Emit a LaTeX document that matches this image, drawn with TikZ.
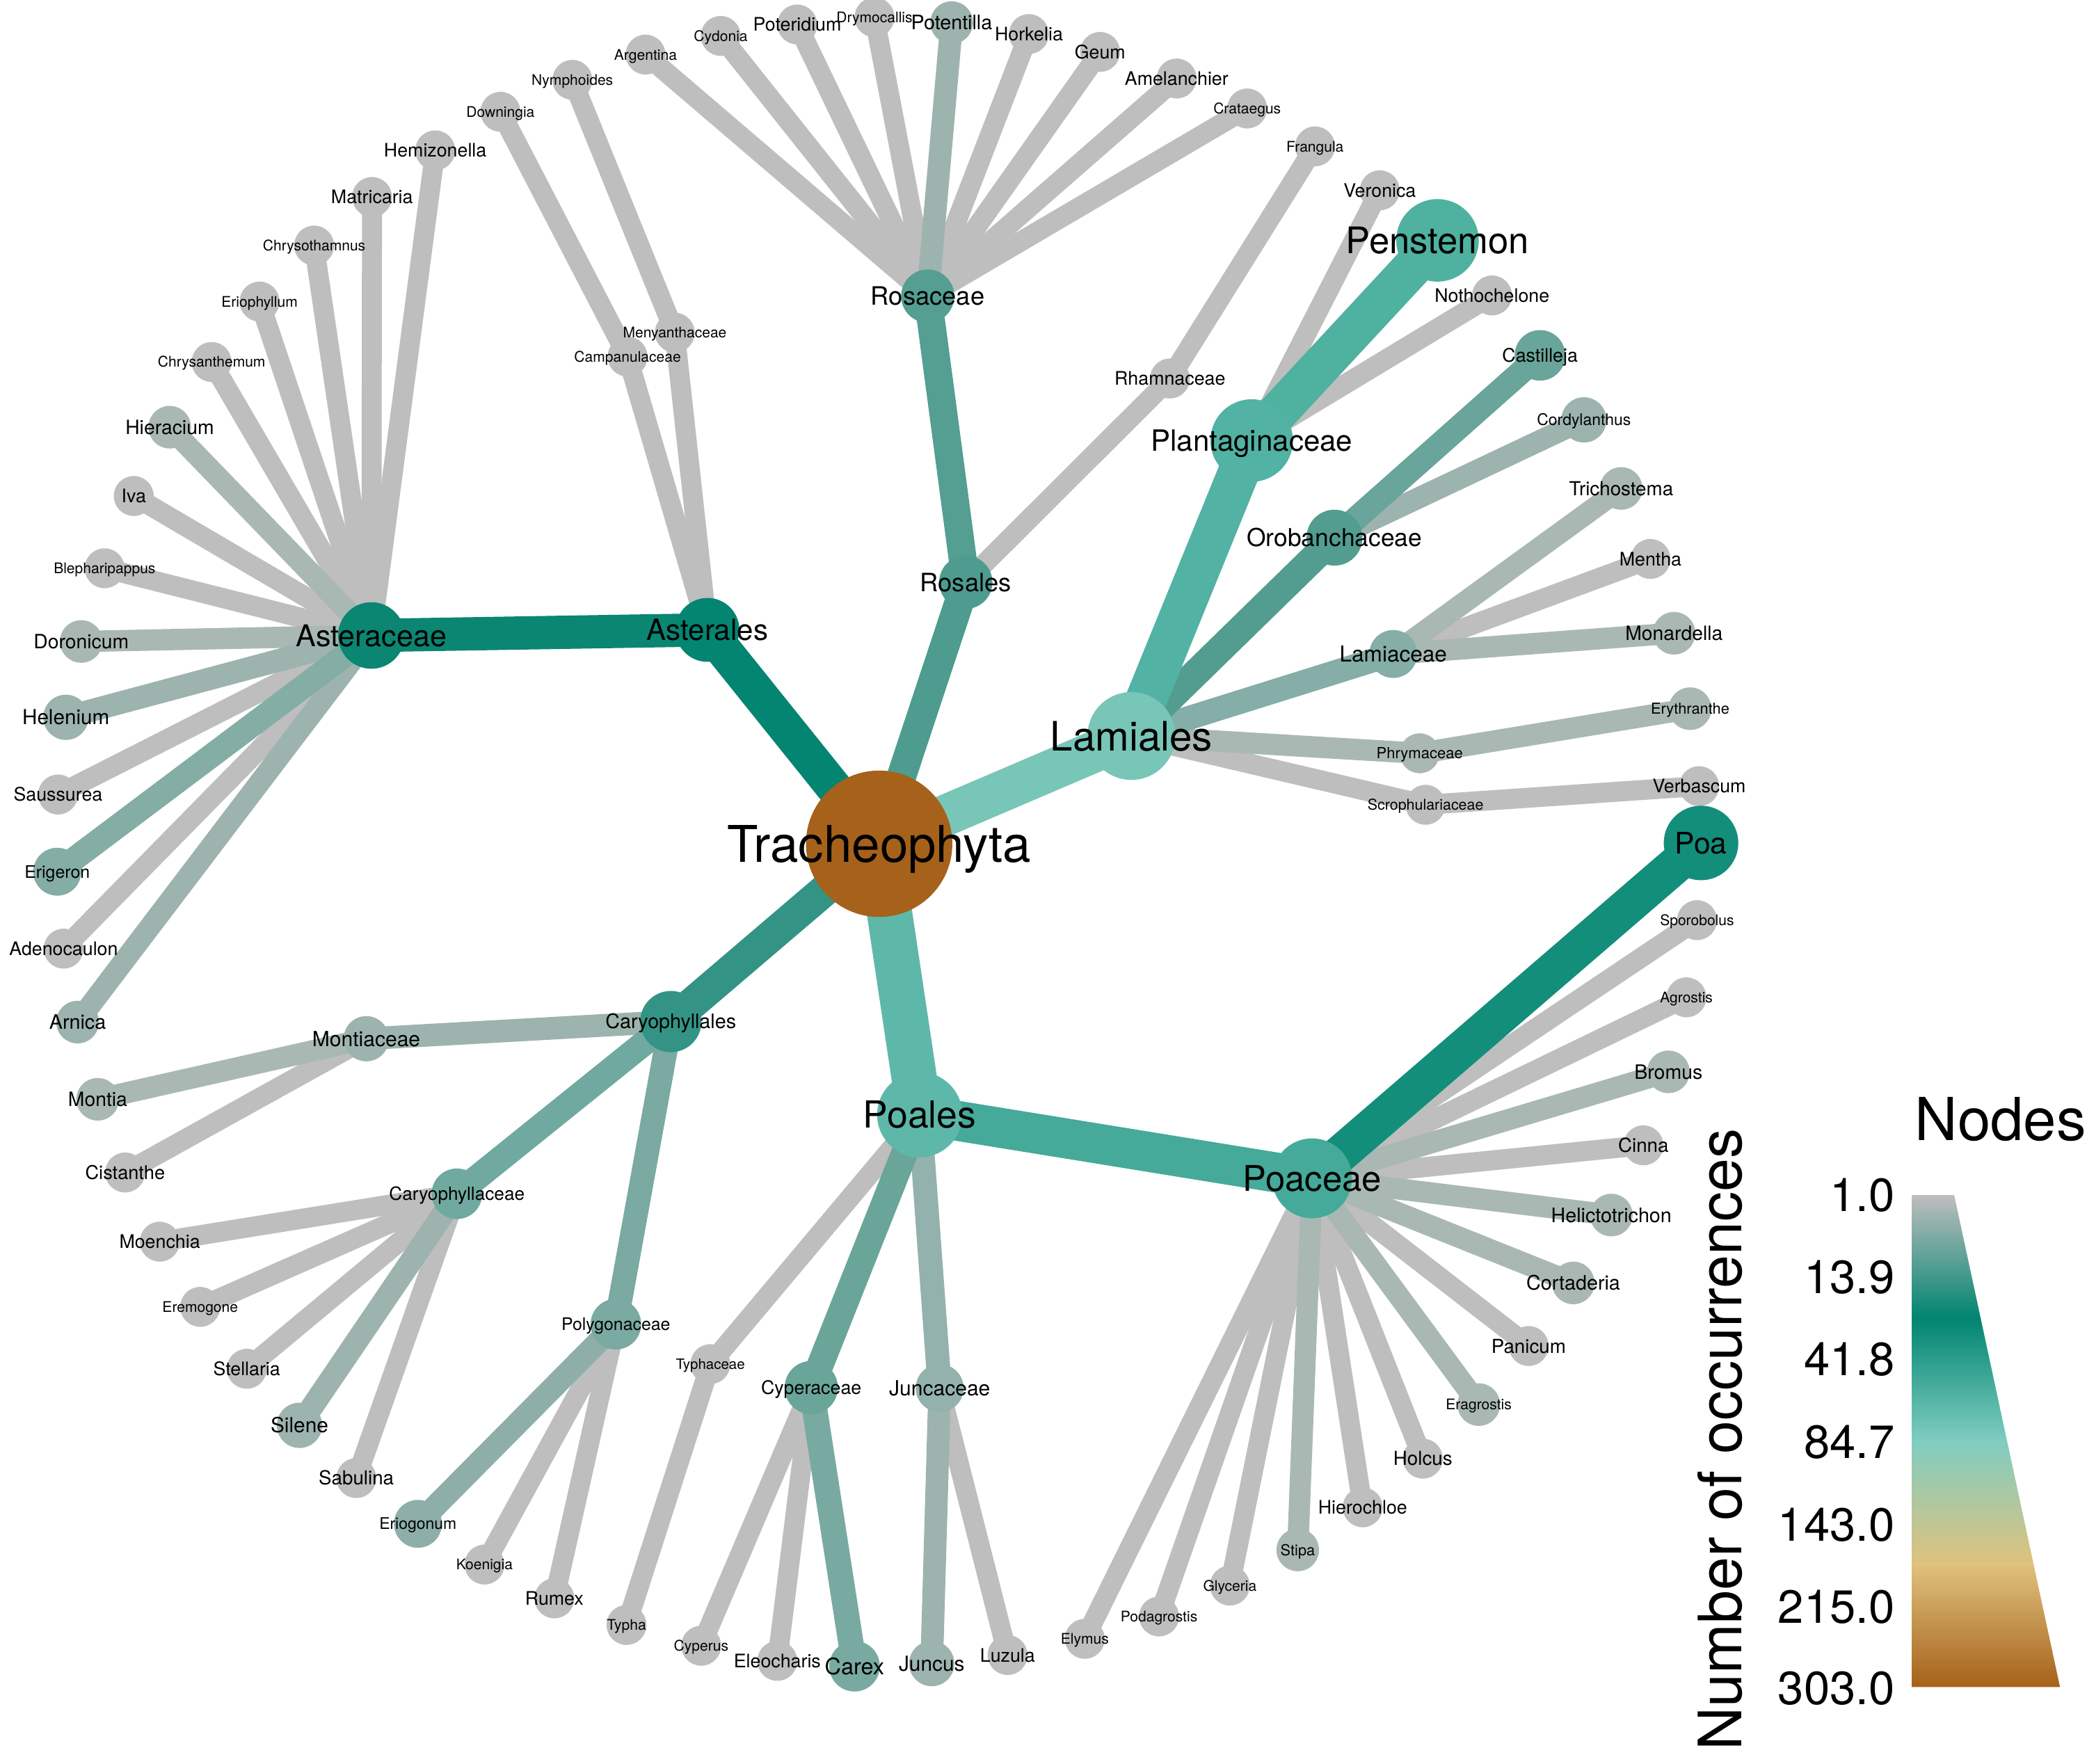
\documentclass[tikz,border=0pt]{standalone}
\usepackage{fontspec}
\setmainfont{TeX Gyre Heros}
\pgfdeclarelayer{bg}
\pgfdeclarelayer{edges}
\pgfdeclarelayer{labels}
\pgfsetlayers{bg,edges,main,labels}

\definecolor{cG}{HTML}{BEBEBE}
\definecolor{cTa}{HTML}{9DB3AE}
\definecolor{cTb}{HTML}{AAB8B4}
\definecolor{cBrown}{HTML}{A6611A}
\definecolor{cTan}{HTML}{DFC27D}
\definecolor{cLight}{HTML}{80CDC1}
\definecolor{cDark}{HTML}{018571}
\definecolor{cAsterales}{HTML}{038571}
\definecolor{cAsteraceae}{HTML}{0A8673}
\definecolor{cPoa}{HTML}{138E7B}
\definecolor{cCaryales}{HTML}{339485}
\definecolor{cRosales}{HTML}{4E9C8F}
\definecolor{cRosaceae}{HTML}{549E92}
\definecolor{cOrob}{HTML}{529D90}
\definecolor{cLamiales}{HTML}{78C6B8}
\definecolor{cPlant}{HTML}{52B2A3}
\definecolor{cPenst}{HTML}{4FB1A0}
\definecolor{cPoales}{HTML}{5EB8AA}
\definecolor{cPoaceae}{HTML}{45AA99}
\definecolor{cCast}{HTML}{69A59A}
\definecolor{cCyper}{HTML}{6AA59A}
\definecolor{cCaryaceae}{HTML}{70A99F}
\definecolor{cPolyg}{HTML}{7AAAA2}
\definecolor{cCarex}{HTML}{79AAA2}
\definecolor{cLamiaceae}{HTML}{84AEA7}
\definecolor{cErig}{HTML}{84ADA6}
\definecolor{cErio}{HTML}{8EAFA9}
\definecolor{cJuncaceae}{HTML}{94B2AD}

\pgfdeclareverticalshading{legshade}{100bp}{color(0bp)=(cBrown); color(25bp)=(cBrown); color(37.5bp)=(cTan); color(50bp)=(cLight); color(62.5bp)=(cDark); color(75bp)=(cG); color(100bp)=(cG)}

\newcommand\lt[2]{\fontsize{#1}{#1}\selectfont\smash{#2}\rule{0pt}{0.72em}}
% name, x, y, diameter, colour, font size, text
\newcommand\GN[7]{%
  \node[dot=#4pt, fill=#5] (#1) at (#2,#3) {};
  \begin{pgfonlayer}{labels}
    \node[lbl] (#1-t) at (#1) {\lt{#6}{#7}};
  \end{pgfonlayer}}
\newcommand\E[4]{\draw[edge, line width=#3pt, draw=#4] (#1.center) -- (#2.center);}

\tikzset{
  dot/.style={circle, inner sep=0pt, minimum size=#1, draw=none},
  lbl/.style={inner sep=0pt, text=black},
  edge/.style={line cap=butt},
  legnum/.style={anchor=base east, inner sep=0pt, font=\fontsize{35}{35}\selectfont}
}

\begin{document}
\begin{tikzpicture}[x=1pt, y=-1pt]
\useasboundingbox (0,0) rectangle (1568,1325);
\begin{pgfonlayer}{bg}
  \fill[white] (0,0) rectangle (1568,1325);
\end{pgfonlayer}

% ---------- nodes ----------
\GN{trach}{660.5}{634}{110}{cBrown}{38}{Tracheophyta}
\GN{asterales}{531.5}{473.3}{48}{cAsterales}{22}{Asterales}
\GN{rosales}{725.6}{437.5}{40}{cRosales}{19}{Rosales}
\GN{lamiales}{850}{553}{66}{cLamiales}{30.5}{Lamiales}
\GN{poales}{691}{837.6}{64}{cPoales}{28}{Poales}
\GN{caryophyllales}{504}{767.6}{46}{cCaryales}{15}{Caryophyllales}

\GN{asteraceae}{279}{477.5}{50}{cAsteraceae}{22.5}{Asteraceae}
\GN{campanulaceae}{471.5}{268}{30}{cG}{11}{Campanulaceae}
\GN{menyanthaceae}{507}{250}{30}{cG}{11}{Menyanthaceae}
\GN{rosaceae}{697}{222.5}{40}{cRosaceae}{19}{Rosaceae}
\GN{rhamnaceae}{879}{284.4}{30}{cG}{14}{Rhamnaceae}
\GN{plantaginaceae}{940.4}{331}{62}{cPlant}{22}{Plantaginaceae}
\GN{orobanchaceae}{1002.6}{404}{42}{cOrob}{18.5}{Orobanchaceae}
\GN{lamiaceae}{1046.8}{491.4}{36}{cLamiaceae}{16.5}{Lamiaceae}
\GN{phrymaceae}{1066.6}{566}{30}{cTb}{11.5}{Phrymaceae}
\GN{scrophulariaceae}{1071}{604.7}{30}{cG}{11.2}{Scrophulariaceae}
\GN{poaceae}{985.8}{885.4}{60}{cPoaceae}{26.6}{Poaceae}
\GN{cyperaceae}{609.5}{1042.6}{40}{cCyper}{14}{Cyperaceae}
\GN{juncaceae}{706}{1043}{36}{cJuncaceae}{15.7}{Juncaceae}
\GN{typhaceae}{533.7}{1025}{30}{cG}{10.7}{Typhaceae}
\GN{montiaceae}{275.2}{780.5}{34}{cTa}{15.7}{Montiaceae}
\GN{caryophyllaceae}{343.3}{897}{38}{cCaryaceae}{13.7}{Caryophyllaceae}
\GN{polygonaceae}{462.7}{995}{38}{cPolyg}{13}{Polygonaceae}

% Asteraceae leaves
\GN{hemizonella}{327}{113}{30}{cG}{14}{Hemizonella}
\GN{matricaria}{279.5}{148}{30}{cG}{14}{Matricaria}
\GN{chrysothamnus}{236}{184.5}{30}{cG}{11}{Chrysothamnus}
\GN{eriophyllum}{195}{226.6}{30}{cG}{11}{Eriophyllum}
\GN{chrysanthemum}{159}{272}{30}{cG}{11}{Chrysanthemum}
\GN{hieracium}{127.5}{321}{32}{cTb}{14.8}{Hieracium}
\GN{iva}{100.5}{372.7}{30}{cG}{14}{Iva}
\GN{blepharipappus}{78.6}{427}{30}{cG}{11}{Blepharipappus}
\GN{doronicum}{61}{482}{32}{cTb}{14.8}{Doronicum}
\GN{helenium}{49.5}{539}{34}{cTa}{15.5}{Helenium}
\GN{saussurea}{43.6}{597}{30}{cG}{14}{Saussurea}
\GN{erigeron}{43}{655}{36}{cErig}{13}{Erigeron}
\GN{adenocaulon}{47.8}{712.8}{30}{cG}{14}{Adenocaulon}
\GN{arnica}{58.3}{768}{32}{cTa}{15}{Arnica}
\GN{downingia}{376}{84}{30}{cG}{11}{Downingia}
\GN{nymphoides}{430}{60}{30}{cG}{11}{Nymphoides}
% Rosaceae leaves
\GN{argentina}{485}{41}{30}{cG}{11}{Argentina}
\GN{cydonia}{541.5}{27}{30}{cG}{11}{Cydonia}
\GN{poteridium}{599}{18.4}{30}{cG}{14}{Poteridium}
\GN{drymocallis}{657}{13}{30}{cG}{11}{Drymocallis}
\GN{potentilla}{715}{17}{32}{cTa}{15}{Potentilla}
\GN{horkelia}{773}{25.6}{30}{cG}{14}{Horkelia}
\GN{geum}{826.5}{39}{30}{cG}{14}{Geum}
\GN{amelanchier}{884}{59}{30}{cG}{14}{Amelanchier}
\GN{crataegus}{937}{81.5}{30}{cG}{11}{Crataegus}
\GN{frangula}{988}{110}{30}{cG}{11}{Frangula}
% Lamiales leaves
\GN{veronica}{1036.6}{143}{30}{cG}{14}{Veronica}
\GN{penstemon}{1080}{180.6}{62}{cPenst}{27.5}{Penstemon}
\GN{nothochelone}{1121}{222}{30}{cG}{14}{Nothochelone}
\GN{castilleja}{1157}{267}{38}{cCast}{14}{Castilleja}
\GN{cordylanthus}{1190}{315.5}{34}{cTa}{12}{Cordylanthus}
\GN{trichostema}{1218}{367}{32}{cTb}{14.5}{Trichostema}
\GN{mentha}{1240}{420}{30}{cG}{14}{Mentha}
\GN{monardella}{1257.7}{475.8}{32}{cTb}{14.8}{Monardella}
\GN{erythranthe}{1269.8}{532.5}{32}{cTb}{11.4}{Erythranthe}
\GN{verbascum}{1276.6}{590.7}{30}{cG}{14}{Verbascum}
% Poaceae leaves
\GN{poa}{1278}{633.4}{56}{cPoa}{22.3}{Poa}
\GN{sporobolus}{1275}{691.4}{30}{cG}{11}{Sporobolus}
\GN{agrostis}{1267}{749.4}{30}{cG}{11}{Agrostis}
\GN{bromus}{1253.5}{805.4}{32}{cTb}{14.9}{Bromus}
\GN{cinna}{1234.7}{860.6}{30}{cG}{14.5}{Cinna}
\GN{helictotrichon}{1210.6}{913}{32}{cTb}{15}{Helictotrichon}
\GN{cortaderia}{1182}{964}{32}{cTb}{15}{Cortaderia}
\GN{panicum}{1148.5}{1011.4}{30}{cG}{14.5}{Panicum}
\GN{eragrostis}{1111}{1055.4}{32}{cTb}{11}{Eragrostis}
\GN{holcus}{1069}{1096}{30}{cG}{14.5}{Holcus}
\GN{hierochloe}{1023.8}{1132.6}{30}{cG}{14}{Hierochloe}
\GN{stipa}{975}{1164.6}{32}{cTb}{11.4}{Stipa}
\GN{glyceria}{924}{1191.4}{30}{cG}{11}{Glyceria}
\GN{podagrostis}{870.8}{1214.6}{30}{cG}{11}{Podagrostis}
\GN{elymus}{815}{1231.4}{30}{cG}{11}{Elymus}
% other Poales leaves
\GN{juncus}{700}{1250}{34}{cTa}{15.6}{Juncus}
\GN{luzula}{757}{1243.6}{30}{cG}{14}{Luzula}
\GN{eleocharis}{584}{1248}{30}{cG}{14}{Eleocharis}
\GN{carex}{642}{1252}{38}{cCarex}{17}{Carex}
\GN{cyperus}{526.8}{1236.6}{30}{cG}{11}{Cyperus}
\GN{typha}{470.7}{1221}{30}{cG}{11}{Typha}
% Caryophyllales leaves
\GN{eriogonum}{314}{1145}{36}{cErio}{12}{Eriogonum}
\GN{koenigia}{364}{1175.6}{30}{cG}{11}{Koenigia}
\GN{rumex}{416.5}{1201}{30}{cG}{14}{Rumex}
\GN{moenchia}{120}{933}{30}{cG}{14}{Moenchia}
\GN{eremogone}{150.4}{982}{30}{cG}{11}{Eremogone}
\GN{stellaria}{185.4}{1028.5}{30}{cG}{14}{Stellaria}
\GN{silene}{225}{1071}{34}{cTa}{15.6}{Silene}
\GN{sabulina}{267.7}{1110.6}{30}{cG}{14.5}{Sabulina}
\GN{montia}{73.4}{826}{32}{cTb}{14.8}{Montia}
\GN{cistanthe}{94}{881}{30}{cG}{14.2}{Cistanthe}

% ---------- edges ----------
\begin{pgfonlayer}{edges}
% grey
\E{asterales}{campanulaceae}{15}{cG}
\E{asterales}{menyanthaceae}{15}{cG}
\E{campanulaceae}{downingia}{15}{cG}
\E{menyanthaceae}{nymphoides}{15}{cG}
\foreach \n in {hemizonella,matricaria,chrysothamnus,eriophyllum,chrysanthemum,iva,blepharipappus,saussurea,adenocaulon}
  {\E{asteraceae}{\n}{15}{cG}}
\foreach \n in {argentina,cydonia,poteridium,drymocallis,horkelia,geum,amelanchier,crataegus}
  {\E{rosaceae}{\n}{15}{cG}}
\E{rosales}{rhamnaceae}{15}{cG}
\E{rhamnaceae}{frangula}{15}{cG}
\E{plantaginaceae}{veronica}{15}{cG}
\E{plantaginaceae}{nothochelone}{15}{cG}
\E{lamiaceae}{mentha}{15}{cG}
\E{lamiales}{scrophulariaceae}{15}{cG}
\E{scrophulariaceae}{verbascum}{15}{cG}
\foreach \n in {sporobolus,agrostis,cinna,panicum,holcus,hierochloe,glyceria,podagrostis,elymus}
  {\E{poaceae}{\n}{15}{cG}}
\E{poales}{typhaceae}{15}{cG}
\E{typhaceae}{typha}{15}{cG}
\E{cyperaceae}{cyperus}{15}{cG}
\E{cyperaceae}{eleocharis}{15}{cG}
\E{juncaceae}{luzula}{15}{cG}
\E{polygonaceae}{koenigia}{15}{cG}
\E{polygonaceae}{rumex}{15}{cG}
\foreach \n in {moenchia,eremogone,stellaria,sabulina}
  {\E{caryophyllaceae}{\n}{15}{cG}}
\E{montiaceae}{cistanthe}{15}{cG}
% coloured
\E{asteraceae}{hieracium}{16}{cTb}
\E{asteraceae}{doronicum}{16}{cTb}
\E{asteraceae}{helenium}{17}{cTa}
\E{asteraceae}{arnica}{16}{cTa}
\E{asteraceae}{erigeron}{18}{cErig}
\E{rosaceae}{potentilla}{17}{cTa}
\E{lamiales}{phrymaceae}{16}{cTb}
\E{phrymaceae}{erythranthe}{16}{cTb}
\E{lamiaceae}{trichostema}{16}{cTb}
\E{lamiaceae}{monardella}{16}{cTb}
\E{orobanchaceae}{cordylanthus}{16}{cTa}
\E{orobanchaceae}{castilleja}{18}{cCast}
\E{lamiales}{lamiaceae}{18}{cLamiaceae}
\E{lamiales}{orobanchaceae}{21}{cOrob}
\E{plantaginaceae}{penstemon}{30}{cPenst}
\E{lamiales}{plantaginaceae}{31}{cPlant}
\foreach \n in {bromus,helictotrichon,cortaderia,eragrostis,stipa}
  {\E{poaceae}{\n}{16}{cTb}}
\E{poaceae}{poa}{28}{cPoa}
\E{juncaceae}{juncus}{17}{cTa}
\E{cyperaceae}{carex}{19}{cCarex}
\E{poales}{juncaceae}{18}{cJuncaceae}
\E{poales}{cyperaceae}{20}{cCyper}
\E{poales}{poaceae}{30}{cPoaceae}
\E{montiaceae}{montia}{16}{cTb}
\E{caryophyllaceae}{silene}{17}{cTa}
\E{polygonaceae}{eriogonum}{17}{cErio}
\E{caryophyllales}{montiaceae}{17}{cTa}
\E{caryophyllales}{polygonaceae}{18}{cPolyg}
\E{caryophyllales}{caryophyllaceae}{19}{cCaryaceae}
\E{rosales}{rosaceae}{21}{cRosaceae}
\E{asterales}{asteraceae}{25}{cAsteraceae}
\E{trach}{rosales}{22}{cRosales}
\E{trach}{caryophyllales}{24}{cCaryales}
\E{trach}{asterales}{27}{cAsterales}
\E{trach}{lamiales}{31}{cLamiales}
\E{trach}{poales}{34}{cPoales}
\end{pgfonlayer}

% ---------- legend ----------
\node[anchor=base west, inner sep=0pt, font=\fontsize{44.5}{44.5}\selectfont] (legtitle) at (1438.6,857) {Nodes};
\node[rotate=90, anchor=base, inner sep=0pt, font=\fontsize{45}{45}\selectfont] (legaxis) at (1308.6,1081.6) {Number of occurrences};
\shade[shading=legshade] (1436.5,898) coordinate (lgA) -- (1468.2,898) coordinate (lgB) -- (1547.7,1267.7) coordinate (lgC) -- (1436.5,1267.7) coordinate (lgD) -- cycle;
\node[legnum] (l1) at (1423.6,910) {1.0};
\node[legnum] (l2) at (1423.6,972) {13.9};
\node[legnum] (l3) at (1423.6,1033.5) {41.8};
\node[legnum] (l4) at (1423.6,1095.7) {84.7};
\node[legnum] (l5) at (1423.6,1158) {143.0};
\node[legnum] (l6) at (1423.6,1219.6) {215.0};
\node[legnum] (l7) at (1423.6,1281) {303.0};
\end{tikzpicture}
\end{document}
